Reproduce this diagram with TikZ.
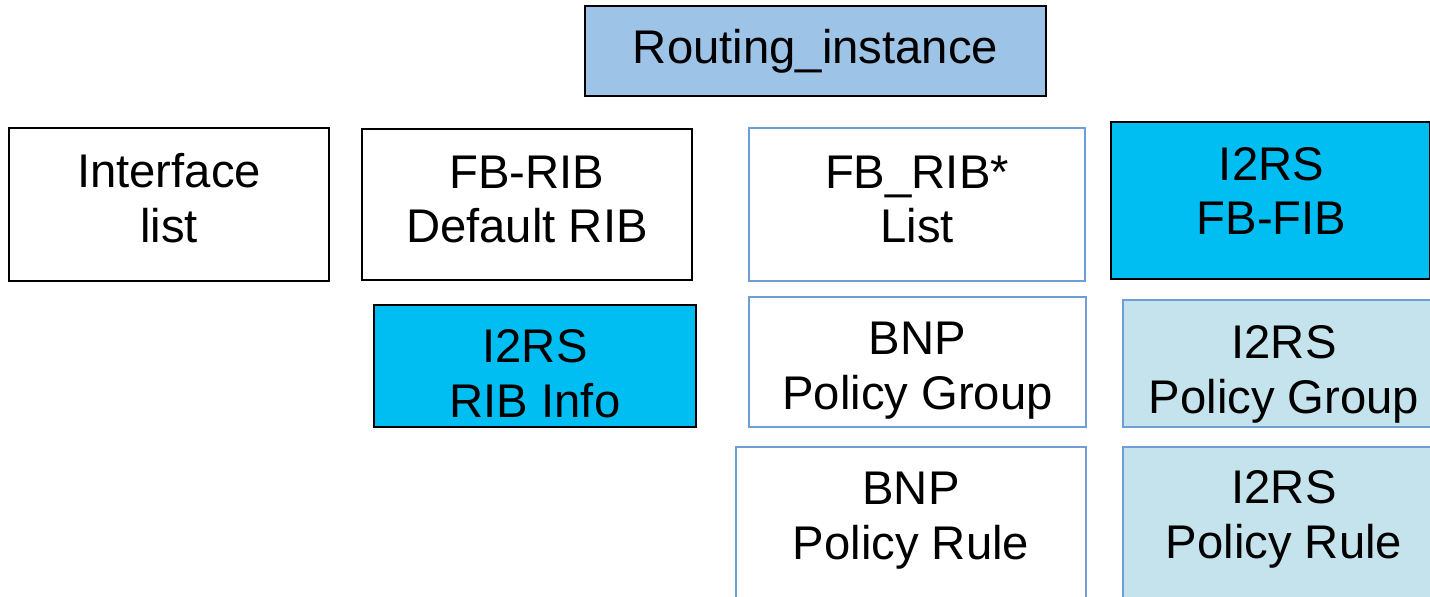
\documentclass[tikz,border=0pt]{standalone}
\usepackage{fontspec}
\setmainfont{Liberation Sans}
\definecolor{instblue}{HTML}{9DC3E6}
\definecolor{i2rscyan}{HTML}{00BDF2}
\definecolor{i2rslight}{HTML}{C5E3EC}
\definecolor{bnpedge}{HTML}{6F9DD6}

\begin{document}
\begin{tikzpicture}[x=0.025cm,y=-0.025cm,
        box/.style={rectangle,draw=black,line width=1.3pt,align=center,inner sep=0pt,font=\fontsize{33.6}{39}\selectfont},
        sized/.style 2 args={minimum width=#1*0.025cm,minimum height=#2*0.025cm},
        bnpbox/.style={box,draw=bnpedge,line width=1pt},
        i2rsbox/.style={box,fill=i2rscyan},
        policybox/.style={bnpbox,fill=i2rslight},
        boxtext/.style={align=center,inner sep=0pt,font=\fontsize{33.6}{39}\selectfont}]
        \useasboundingbox (0,0) rectangle (1430,597);
        \clip (0,0) rectangle (1430,597);
        \node[box,fill=instblue,sized={461}{90}] (route) at (815.5,51) {Routing\_instance};
        \node[box,sized={320}{153}] (iface) at (169,204.5) {};
        \node[boxtext] (ifacetext) at (169,198) {Interface\\list};
        \node[box,sized={330}{151}] (fbrib) at (527,204.5) {};
        \node[boxtext] (fbribtext) at (527,199.5) {FB-RIB\\Default RIB};
        \node[i2rsbox,sized={322}{122}] (ribinfo) at (535,366) {};
        \node[boxtext] (ribinfotext) at (535,373.5) {I2RS\\RIB Info};
        \node[bnpbox,sized={336}{153}] (fblist) at (917,204.5) {};
        \node[boxtext] (fblisttext) at (917,199.5) {FB\_RIB*\\List};
        \node[i2rsbox,sized={319}{157}] (fbfib) at (1270.5,200.5) {};
        \node[boxtext] (fbfibtext) at (1271.5,191) {I2RS\\FB-FIB};
        \node[bnpbox,sized={337}{130}] (bnpgroup) at (917.5,362) {};
        \node[boxtext] (bnpgrouptext) at (917.5,371) {BNP\\Policy Group};
        \node[policybox,sized={322}{127}] (i2rsgroup) at (1284,363.5) {};
        \node[boxtext] (i2rsgrouptext) at (1284,374) {I2RS\\Policy Group};
        \node[bnpbox,sized={350}{180}] (bnprule) at (911,537) {};
        \node[boxtext] (bnpruletext) at (911,520.5) {BNP\\Policy Rule};
        \node[policybox,sized={322}{180}] (i2rsrule) at (1284,537) {};
        \node[boxtext] (i2rsruletext) at (1284,519.5) {I2RS\\Policy Rule};
\end{tikzpicture}
\end{document}
